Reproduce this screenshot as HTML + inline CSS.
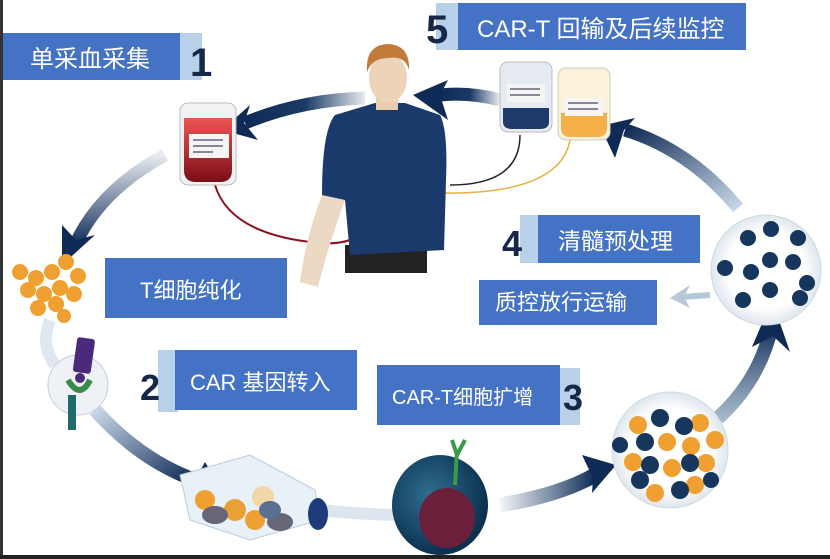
<!DOCTYPE html>
<html><head><meta charset="utf-8"><style>
html,body{margin:0;padding:0;background:#fff}
svg{display:block}
text{font-family:"Liberation Sans","Noto Sans CJK SC",sans-serif}
</style></head><body>
<svg width="830" height="559" viewBox="0 0 830 559" xmlns="http://www.w3.org/2000/svg">
<defs>
<linearGradient id="ga" x1="1" y1="0" x2="0" y2="0"><stop offset="0" stop-color="#1a3a66" stop-opacity="0.1"/><stop offset="0.5" stop-color="#1a3a66"/><stop offset="1" stop-color="#0f2b55"/></linearGradient>
<linearGradient id="gb" x1="0" y1="0" x2="0" y2="1"><stop offset="0" stop-color="#1a3a66" stop-opacity="0.1"/><stop offset="1" stop-color="#0f2b55"/></linearGradient>
<linearGradient id="gc" x1="0" y1="0" x2="1" y2="1"><stop offset="0" stop-color="#c8d8e8"/><stop offset="1" stop-color="#0f2b55"/></linearGradient>
<linearGradient id="gd" x1="0" y1="0" x2="1" y2="0"><stop offset="0" stop-color="#1a3a66" stop-opacity="0.05"/><stop offset="1" stop-color="#0f2b55"/></linearGradient>
<linearGradient id="ge" x1="0" y1="1" x2="0" y2="0"><stop offset="0" stop-color="#4a7090" stop-opacity="0.5"/><stop offset="1" stop-color="#0f2b55"/></linearGradient>
<linearGradient id="gf" x1="1" y1="1" x2="0" y2="0"><stop offset="0" stop-color="#c8d8e8"/><stop offset="1" stop-color="#0f2b55"/></linearGradient>
<linearGradient id="blood" x1="0" y1="0" x2="0" y2="1"><stop offset="0" stop-color="#e55"/><stop offset="1" stop-color="#7a0d15"/></linearGradient>
<radialGradient id="cell" cx="0.4" cy="0.4" r="0.6"><stop offset="0" stop-color="#2f6f8f"/><stop offset="1" stop-color="#0c3050"/></radialGradient>
<radialGradient id="dish" cx="0.5" cy="0.5" r="0.5"><stop offset="0.7" stop-color="#fff"/><stop offset="1" stop-color="#dfe6ee"/></radialGradient>
</defs>
<rect width="830" height="559" fill="#fff"/>
<rect x="0" y="0" width="3" height="559" fill="#333"/>
<rect x="0" y="555" width="830" height="4" fill="#222"/>

<path d="M365 98 Q300 100 245 123" stroke="url(#ga)" stroke-width="13" fill="none"/>
<polygon points="222,130 250,105 244,123 258,140" fill="#0f2b55"/>
<path d="M165 155 Q100 190 75 245" stroke="url(#gb)" stroke-width="13" fill="none"/>
<polygon points="62,265 62,225 76,240 95,235" fill="#0f2b55"/>
<path d="M50 320 Q40 345 55 365" stroke="#dfe8f0" stroke-width="12" fill="none"/>
<path d="M95 410 Q140 460 195 480" stroke="url(#gc)" stroke-width="14" fill="none"/>
<polygon points="222,490 185,500 195,480 205,462" fill="#0f2b55"/>
<path d="M320 510 Q365 515 410 515" stroke="#dde6ee" stroke-width="12" fill="none"/>
<path d="M500 505 Q560 495 595 475" stroke="url(#gd)" stroke-width="15" fill="none"/>
<polygon points="616,465 592,493 593,478 582,455" fill="#0f2b55"/>
<path d="M718 418 Q760 380 772 325" stroke="url(#ge)" stroke-width="14" fill="none"/>
<polygon points="772,300 790,352 773,336 752,347" fill="#0f2b55"/>
<path d="M738 208 Q690 150 625 130" stroke="url(#gf)" stroke-width="13" fill="none"/>
<polygon points="600,126 635,118 624,130 615,158" fill="#0f2b55"/>
<path d="M500 100 Q470 92 440 95" stroke="url(#ga)" stroke-width="13" fill="none"/>
<polygon points="413,95 448,80 440,95 448,120" fill="#0f2b55"/>
<path d="M710 295 L682 297" stroke="#b8c8d8" stroke-width="6"/>
<polygon points="670,298 690,285 684,297 690,308" fill="#b8c8d8"/>

<path d="M215 185 Q230 235 320 243 Q345 245 360 235" stroke="#8a1020" stroke-width="2" fill="none"/>
<rect x="180" y="103" width="56" height="82" rx="8" fill="#f2f2f4" stroke="#bbb"/>
<path d="M184 118 H232 V170 Q232 182 220 182 H196 Q184 182 184 170 Z" fill="url(#blood)"/>
<rect x="189" y="134" width="40" height="24" fill="#f4f4f4"/>
<rect x="193" y="139" width="30" height="2" fill="#889"/><rect x="193" y="145" width="30" height="2" fill="#889"/><rect x="193" y="151" width="20" height="2" fill="#889"/>

<path d="M520 135 Q520 185 450 185" stroke="#222" stroke-width="1.5" fill="none"/>
<path d="M570 140 Q560 195 440 193" stroke="#e5b040" stroke-width="1.5" fill="none"/>
<rect x="500" y="62" width="52" height="70" rx="8" fill="#e6ebf2" stroke="#bbb"/>
<path d="M503 108 H549 V122 Q549 129 540 129 H512 Q503 129 503 122 Z" fill="#1e3a6a"/>
<rect x="507" y="84" width="38" height="18" fill="#f5f5f5"/>
<rect x="510" y="88" width="30" height="2" fill="#889"/><rect x="510" y="94" width="30" height="2" fill="#889"/>
<rect x="558" y="68" width="52" height="72" rx="8" fill="#fbf2dc" stroke="#ccb"/>
<path d="M561 113 H607 V128 Q607 137 597 137 H571 Q561 137 561 128 Z" fill="#f5b04a"/>
<rect x="565" y="98" width="38" height="18" fill="#f5f5f5"/>
<rect x="568" y="102" width="30" height="2" fill="#889"/><rect x="568" y="108" width="30" height="2" fill="#889"/>

<path d="M322 195 Q305 240 300 282 L318 287 Q330 240 345 200 Z" fill="#ecd9c4"/>
<rect x="345" y="245" width="82" height="28" fill="#222"/>
<path d="M375 103 L405 103 L440 115 Q448 130 446 180 L444 250 L350 255 L345 200 L322 195 Q322 130 335 115 Z" fill="#1a3a6c"/>
<rect x="376" y="92" width="22" height="18" fill="#e8cdb0"/>
<ellipse cx="388" cy="78" rx="19" ry="25" fill="#edd3b8"/>
<path d="M367 72 Q365 45 388 44 Q410 45 409 70 Q405 55 388 58 Q372 58 367 72 Z" fill="#c07a3a"/>

<g fill="#f0a030">
<circle cx="20" cy="272" r="8"/><circle cx="36" cy="278" r="8"/><circle cx="52" cy="272" r="8"/><circle cx="66" cy="262" r="8"/><circle cx="78" cy="276" r="8"/><circle cx="28" cy="290" r="8"/><circle cx="44" cy="294" r="8"/><circle cx="60" cy="288" r="8"/><circle cx="74" cy="294" r="8"/><circle cx="38" cy="308" r="8"/><circle cx="56" cy="304" r="8"/><circle cx="64" cy="316" r="7"/>
</g>

<circle cx="78" cy="385" r="30" fill="#eef2f6" stroke="#ccd"/>
<rect x="75" y="338" width="18" height="35" rx="3" fill="#4a2a7a" transform="rotate(8 84 355)"/>
<path d="M68 380 Q80 400 90 380" stroke="#3a8a4a" stroke-width="6" fill="none"/>
<rect x="68" y="395" width="8" height="35" fill="#1f6a6a"/>
<circle cx="80" cy="378" r="5" fill="#4a2a7a"/>

<polygon points="180,475 250,455 315,490 320,520 250,540 190,520" fill="#e8f0f8" stroke="#bcd"/>
<circle cx="205" cy="500" r="10" fill="#f0a030"/><circle cx="235" cy="510" r="11" fill="#e9a035"/><circle cx="263" cy="497" r="11" fill="#f2d8a8"/><circle cx="255" cy="520" r="10" fill="#f0a030"/>
<ellipse cx="215" cy="515" rx="13" ry="9" fill="#667"/><ellipse cx="280" cy="522" rx="13" ry="9" fill="#667"/><ellipse cx="270" cy="510" rx="11" ry="9" fill="#5a7090"/>
<ellipse cx="318" cy="514" rx="10" ry="16" fill="#1d3c7a"/>

<ellipse cx="440" cy="505" rx="48" ry="50" fill="url(#cell)"/>
<ellipse cx="447" cy="518" rx="28" ry="30" fill="#6a1f3a"/>
<path d="M455 485 L457 450 M457 455 L452 440 M457 455 L465 440" stroke="#3a9a4a" stroke-width="4" fill="none"/>

<circle cx="670" cy="450" r="58" fill="url(#dish)" stroke="#cdd"/>
<g fill="#f0a030">
<circle cx="638" cy="425" r="9"/><circle cx="700" cy="423" r="9"/><circle cx="667" cy="442" r="9"/><circle cx="691" cy="446" r="9"/><circle cx="715" cy="440" r="9"/><circle cx="633" cy="462" r="9"/><circle cx="672" cy="468" r="9"/><circle cx="706" cy="463" r="9"/><circle cx="655" cy="493" r="9"/><circle cx="695" cy="485" r="9"/>
</g>
<g fill="#17365e">
<circle cx="660" cy="418" r="9"/><circle cx="684" cy="426" r="9"/><circle cx="645" cy="442" r="9"/><circle cx="620" cy="445" r="8"/><circle cx="650" cy="465" r="9"/><circle cx="690" cy="463" r="9"/><circle cx="640" cy="480" r="9"/><circle cx="680" cy="490" r="9"/><circle cx="711" cy="480" r="8"/>
</g>

<circle cx="766" cy="270" r="55" fill="url(#dish)" stroke="#cdd"/>
<g fill="#17365e">
<circle cx="771" cy="229" r="8"/><circle cx="748" cy="238" r="8"/><circle cx="798" cy="238" r="8"/><circle cx="770" cy="260" r="8"/><circle cx="793" cy="262" r="8"/><circle cx="725" cy="268" r="8"/><circle cx="751" cy="272" r="8"/><circle cx="807" cy="283" r="8"/><circle cx="770" cy="290" r="8"/><circle cx="743" cy="300" r="8"/><circle cx="800" cy="298" r="8"/>
</g>

<rect x="180" y="33" width="22" height="47" fill="#b8d0e8"/>
<rect x="3" y="33" width="177" height="47" fill="#4472c4"/>
<text x="30" y="67" font-size="24" fill="#fff">单采血采集</text>
<text x="190" y="76" font-size="40" font-weight="bold" fill="#16284a">1</text>

<rect x="436" y="3" width="22" height="47" fill="#b8d0e8"/>
<rect x="458" y="3" width="288" height="47" fill="#4472c4"/>
<text x="477" y="37" font-size="24" fill="#fff">CAR-T 回输及后续监控</text>
<text x="426" y="43" font-size="40" font-weight="bold" fill="#16284a">5</text>

<rect x="105" y="258" width="182" height="60" fill="#4472c4"/>
<text x="140" y="298" font-size="22" fill="#fff">T细胞纯化</text>

<rect x="520" y="215" width="20" height="48" fill="#b8d0e8"/>
<rect x="538" y="215" width="162" height="48" fill="#4472c4"/>
<text x="558" y="249" font-size="23" fill="#fff">清髓预处理</text>
<text x="502" y="256" font-size="36" font-weight="bold" fill="#16284a">4</text>

<rect x="479" y="280" width="178" height="45" fill="#4472c4"/>
<text x="495" y="310" font-size="22" fill="#fff">质控放行运输</text>

<rect x="158" y="350" width="20" height="62" fill="#b8d0e8"/>
<rect x="175" y="350" width="182" height="60" fill="#4472c4"/>
<text x="190" y="390" font-size="22" fill="#fff">CAR 基因转入</text>
<text x="140" y="400" font-size="36" font-weight="bold" fill="#16284a">2</text>

<rect x="560" y="368" width="20" height="57" fill="#b8d0e8"/>
<rect x="377" y="365" width="183" height="60" fill="#4472c4"/>
<text x="392" y="404" font-size="20" fill="#fff">CAR-T细胞扩增</text>
<text x="563" y="410" font-size="36" font-weight="bold" fill="#16284a">3</text>
</svg>
</body></html>
